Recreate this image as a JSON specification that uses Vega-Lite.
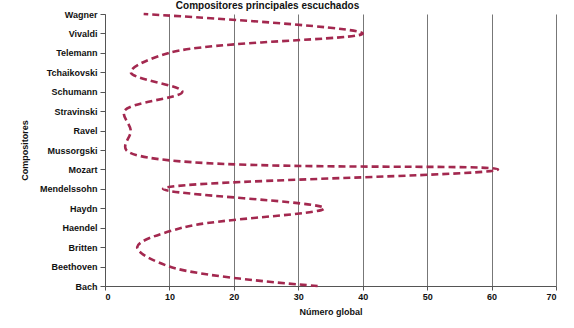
{
  "$schema": "https://vega.github.io/schema/vega-lite/v6.json",
  "width": 451,
  "height": 272,
  "autosize": {"type": "none"},
  "padding": {"left": 105, "top": 14, "right": 18, "bottom": 42},
  "background": "white",
  "title": {
    "text": "Compositores principales escuchados",
    "font": "Liberation Sans",
    "fontSize": 10,
    "fontWeight": "bold",
    "color": "#111",
    "offset": -12.5,
    "dx": -63,
    "baseline": "bottom"
  },
  "data": {
    "values": [
      {"compositor": "Bach", "numero": 33, "orden": 1},
      {"compositor": "Beethoven", "numero": 10, "orden": 2},
      {"compositor": "Britten", "numero": 5, "orden": 3},
      {"compositor": "Haendel", "numero": 12, "orden": 4},
      {"compositor": "Haydn", "numero": 34, "orden": 5},
      {"compositor": "Mendelssohn", "numero": 9, "orden": 6},
      {"compositor": "Mozart", "numero": 61, "orden": 7},
      {"compositor": "Mussorgski", "numero": 3.3, "orden": 8},
      {"compositor": "Ravel", "numero": 4, "orden": 9},
      {"compositor": "Stravinski", "numero": 3, "orden": 10},
      {"compositor": "Schumann", "numero": 12, "orden": 11},
      {"compositor": "Tchaikovski", "numero": 4, "orden": 12},
      {"compositor": "Telemann", "numero": 10, "orden": 13},
      {"compositor": "Vivaldi", "numero": 40, "orden": 14},
      {"compositor": "Wagner", "numero": 6, "orden": 15}
    ]
  },
  "mark": {
    "type": "line",
    "interpolate": "catmull-rom",
    "color": "#a3284f",
    "strokeWidth": 2.6,
    "strokeDash": [7, 4]
  },
  "encoding": {
    "x": {
      "field": "numero",
      "type": "quantitative",
      "scale": {"domain": [0, 70], "nice": false},
      "axis": {
        "values": [0, 10, 20, 30, 40, 50, 60, 70],
        "title": "Número global",
        "titleFont": "Liberation Sans",
        "titleFontSize": 9,
        "titleFontWeight": "bold",
        "titleColor": "#111",
        "titlePadding": 6,
        "labelFont": "Liberation Sans",
        "labelFontSize": 9,
        "labelFontWeight": "bold",
        "labelColor": "#111",
        "domainColor": "#555",
        "tickColor": "#555",
        "tickSize": 4,
        "grid": true,
        "gridColor": "#777",
        "gridWidth": 1
      }
    },
    "y": {
      "field": "compositor",
      "type": "nominal",
      "scale": {
        "type": "point",
        "padding": 0,
        "domain": ["Wagner", "Vivaldi", "Telemann", "Tchaikovski", "Schumann", "Stravinski", "Ravel", "Mussorgski", "Mozart", "Mendelssohn", "Haydn", "Haendel", "Britten", "Beethoven", "Bach"]
      },
      "axis": {
        "title": "Compositores",
        "titleFont": "Liberation Sans",
        "titleFontSize": 9,
        "titleFontWeight": "bold",
        "titleColor": "#111",
        "titlePadding": 10,
        "labelFont": "Liberation Sans",
        "labelFontSize": 9,
        "labelFontWeight": "bold",
        "labelColor": "#111",
        "labelPadding": 3,
        "domainColor": "#555",
        "tickColor": "#555",
        "tickSize": 5,
        "grid": false
      }
    },
    "order": {"field": "orden", "type": "quantitative"}
  },
  "config": {
    "view": {"stroke": null}
  }
}
